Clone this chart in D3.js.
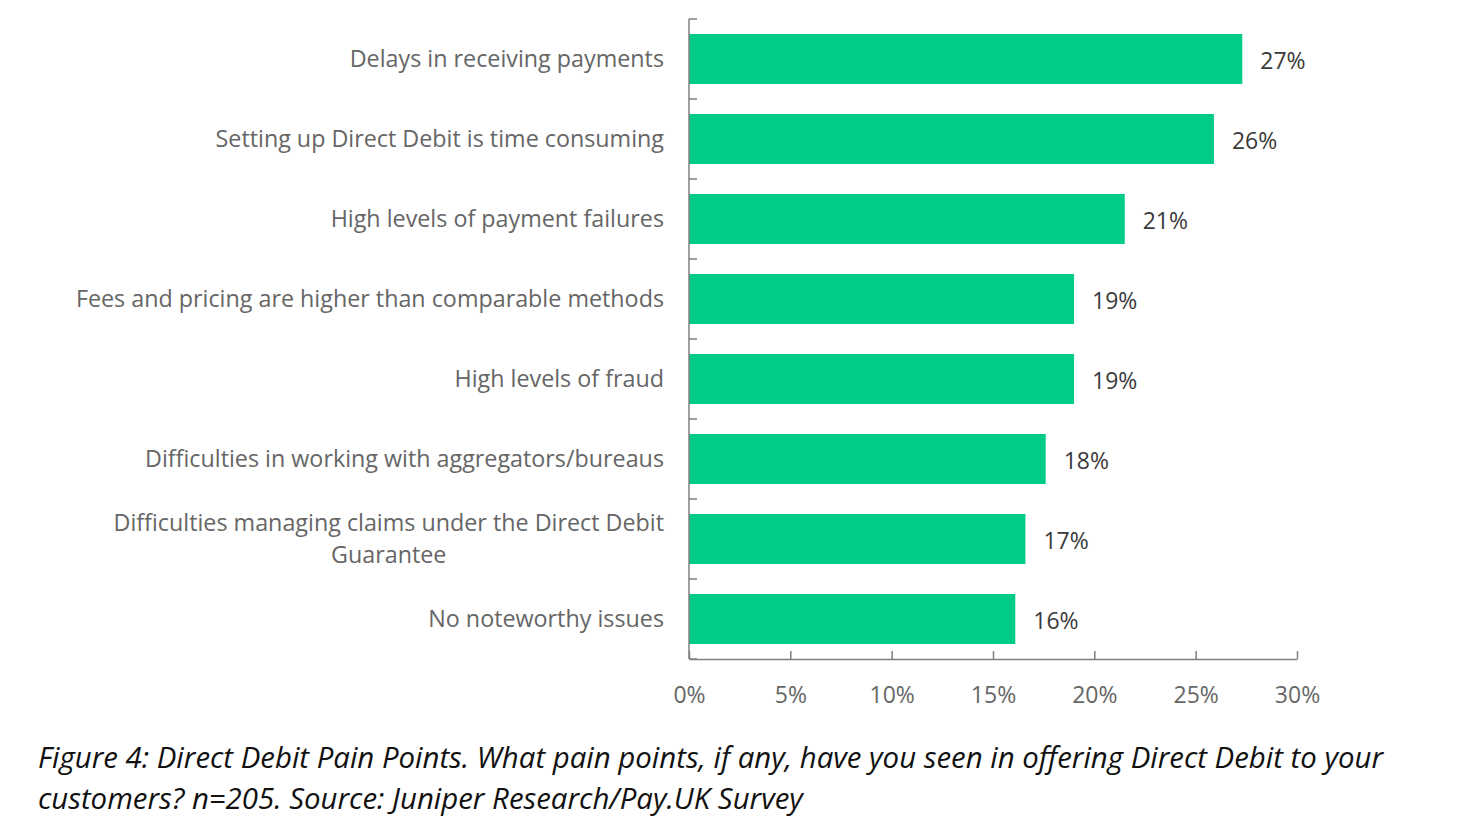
<!DOCTYPE html>
<html lang="en">
<head>
  <meta charset="UTF-8">
  <title>Direct Debit Pain Points</title>
  <script src="https://cdn.jsdelivr.net/npm/d3@7"></script>
<style>
  body { margin: 0; background: #fff; }
  svg text { font-family: "Open Sans", sans-serif; }
</style>
</head>

<body>
  <script>
    var categories = [
      'Delays in receiving payments',
      'Setting up Direct Debit is time consuming',
      'High levels of payment failures',
      'Fees and pricing are higher than comparable methods',
      'High levels of fraud',
      'Difficulties in working with aggregators/bureaus',
      'Difficulties managing claims under the Direct Debit|Guarantee',
      'No noteworthy issues'
    ];
    var values = [27.3, 25.9, 21.5, 19.0, 19.0, 17.6, 16.6, 16.1];
    var valueLabels = ['27%', '26%', '21%', '19%', '19%', '18%', '17%', '16%'];
    var xTicks = [0, 5, 10, 15, 20, 25, 30];

    var w = 1476;
    var h = 836;
    var plotL = 689, plotR = 1297, plotT = 19, plotB = 659;

    var svg = d3.select('body')
                .append('svg')
                .attr('width', w)
                .attr('height', h);

    var x = d3.scaleLinear().domain([0, 30]).range([plotL, plotR]);
    var y = d3.scaleBand().domain(categories).range([plotT, plotB])
              .paddingInner(0.375).paddingOuter(0.1875);

    // bars
    svg.selectAll('rect.bar')
      .data(values)
      .enter()
      .append('rect')
      .attr('class', 'bar')
      .attr('x', x(0))
      .attr('y', (d, i) => y(categories[i]))
      .attr('width', d => x(d) - x(0))
      .attr('height', y.bandwidth())
      .attr('fill', '#00cc88');

    // value labels
    svg.selectAll('text.val')
      .data(values)
      .enter()
      .append('text')
      .attr('class', 'val')
      .text((d, i) => valueLabels[i])
      .attr('x', d => x(d) + 18)
      .attr('y', (d, i) => y(categories[i]) + y.bandwidth() / 2 + 2)
      .attr('dy', '0.36em')
      .attr('font-size', '23px')
      .attr('font-weight', 500)
      .attr('fill', '#3a3a3a');

    // x axis
    var xAxis = svg.append('g')
      .attr('transform', `translate(0,${plotB})`)
      .call(d3.axisBottom(x).tickValues(xTicks).tickFormat(d => d + '%')
              .tickSizeInner(-8).tickSizeOuter(0).tickPadding(28));
    xAxis.select('.domain').attr('stroke', '#808080').attr('stroke-width', 1.5);
    xAxis.selectAll('.tick line').attr('stroke', '#808080').attr('stroke-width', 1.5);
    xAxis.selectAll('.tick text')
      .attr('font-size', '23px')
      .attr('fill', '#666')
      .attr('font-family', '"Open Sans", sans-serif');

    // y axis line with boundary ticks
    var bounds = d3.range(categories.length + 1).map(i => plotT + i * y.step());
    svg.append('line')
      .attr('x1', plotL).attr('x2', plotL)
      .attr('y1', plotT).attr('y2', plotB)
      .attr('stroke', '#808080').attr('stroke-width', 1.5);
    svg.selectAll('line.ytick')
      .data(bounds)
      .enter()
      .append('line')
      .attr('class', 'ytick')
      .attr('x1', plotL).attr('x2', plotL + 8)
      .attr('y1', d => d).attr('y2', d => d)
      .attr('stroke', '#808080').attr('stroke-width', 1.5);

    // category labels (multi-line centred, right aligned block)
    categories.forEach(function(c) {
      var lines = c.split('|');
      var g = svg.append('text')
        .attr('font-size', '23.3px')
        .attr('fill', '#666')
        .attr('text-anchor', 'middle');
      var cy = y(c) + y.bandwidth() / 2;
      var lh = 32;
      var spans = lines.map(function(l, j) {
        return g.append('tspan')
          .attr('y', cy + (j - (lines.length - 1) / 2) * lh)
          .attr('dy', '0.36em')
          .text(l);
      });
      var maxW = d3.max(spans, s => s.node().getComputedTextLength());
      spans.forEach(s => s.attr('x', 664 - maxW / 2));
    });

    // caption
    var cap = svg.append('text')
      .attr('font-size', '29.4px')
      .attr('font-style', 'italic')
      .attr('fill', '#111')
      .attr('font-family', '"Open Sans", sans-serif');
    cap.append('tspan').attr('x', 38).attr('y', 768)
      .text('Figure 4: Direct Debit Pain Points. What pain points, if any, have you seen in offering Direct Debit to your');
    cap.append('tspan').attr('x', 38).attr('y', 809)
      .text('customers? n=205. Source: Juniper Research/Pay.UK Survey');
  </script>
</body>
</html>
